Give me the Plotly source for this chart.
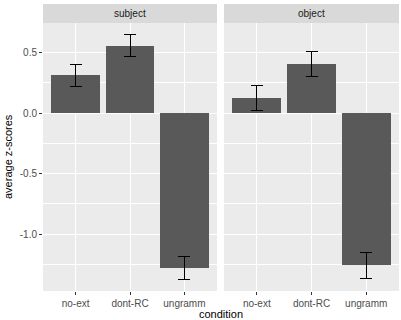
import plotly.graph_objects as go

conditions = ["no-ext", "dont-RC", "ungramm"]
panels = ["subject", "object"]
subject_means = [0.311, 0.557, -1.278]
subject_se = [0.094, 0.093, 0.094]
object_means = [0.124, 0.407, -1.259]
object_se = [0.102, 0.104, 0.110]
y_ticks = [-1.0, -0.5, 0.0, 0.5]
y_ticklabels = ["-1.0", "-0.5", "0.0", "0.5"]

W, H = 401, 320
ml, mr, mt, mb = 43, 2, 4, 29
pw = W - ml - mr
ph = H - mt - mb
panel_h = 268
ydom_top = panel_h / ph
x1 = (217 - ml) / pw
x2 = (224 - ml) / pw

FONT = "Liberation Sans, Arial, sans-serif"
BAR = "#595959"

fig = go.Figure()
for i, (means, se) in enumerate([(subject_means, subject_se), (object_means, object_se)]):
    ax = "" if i == 0 else "2"
    fig.add_trace(go.Bar(
        x=list(range(len(conditions))), y=means, width=0.9,
        marker=dict(color=BAR, line=dict(width=0)),
        error_y=dict(type="data", array=se, visible=True, color="black",
                     thickness=1, width=6),
        xaxis="x" + ax, yaxis="y" + ax, showlegend=False,
    ))

common_x = dict(
    range=[-0.6, 2.6], tickvals=list(range(len(conditions))), ticktext=conditions,
    showgrid=True, gridcolor="white", gridwidth=1.1, zeroline=False,
    ticks="outside", ticklen=3, tickcolor="#333333", tickwidth=1,
    tickfont=dict(family=FONT, size=10, color="#4D4D4D"), fixedrange=True,
)
common_y = dict(
    range=[-1.471, 0.744], tickvals=y_ticks, ticktext=y_ticklabels,
    showgrid=True, gridcolor="white", gridwidth=1.1, zeroline=False,
    minor=dict(dtick=0.25, tick0=0, showgrid=True, gridcolor="white", gridwidth=0.5),
    domain=[0, ydom_top],
    tickfont=dict(family=FONT, size=10, color="#4D4D4D"), fixedrange=True,
)

fig.update_layout(
    width=W, height=H,
    margin=dict(l=ml, r=mr, t=mt, b=mb),
    paper_bgcolor="white", plot_bgcolor="#EBEBEB",
    font=dict(family=FONT),
    bargap=0,
    xaxis=dict(domain=[0, x1], anchor="y", **common_x),
    xaxis2=dict(domain=[x2, 1], anchor="y2", **common_x),
    yaxis=dict(anchor="x", ticks="outside", ticklen=3, tickcolor="#333333", **common_y),
    yaxis2=dict(anchor="x2", showticklabels=False, ticks="", **common_y),
)

shapes = []
annotations = []
for (a, b), name in zip([(0, x1), (x2, 1)], panels):
    shapes.append(dict(type="rect", xref="paper", yref="paper", x0=a, x1=b,
                       y0=ydom_top, y1=1, fillcolor="#D9D9D9", line=dict(width=0), layer="below"))
    annotations.append(dict(text=name, xref="paper", yref="paper", x=(a + b) / 2,
                            y=(ydom_top + 1) / 2, showarrow=False, xanchor="center", yanchor="middle",
                            font=dict(family=FONT, size=10, color="#1A1A1A")))
annotations.append(dict(text="condition", xref="paper", yref="paper", x=0.5,
                        y=(291 - 314) / ph, showarrow=False, xanchor="center", yanchor="middle",
                        font=dict(family=FONT, size=11, color="black")))
annotations.append(dict(text="average z-scores", xref="paper", yref="paper", x=(8 - ml) / pw,
                        y=ydom_top / 2, showarrow=False, textangle=-90, xanchor="center",
                        yanchor="middle", font=dict(family=FONT, size=11, color="black")))
fig.update_layout(shapes=shapes, annotations=annotations)

fig.write_html("out.html")
